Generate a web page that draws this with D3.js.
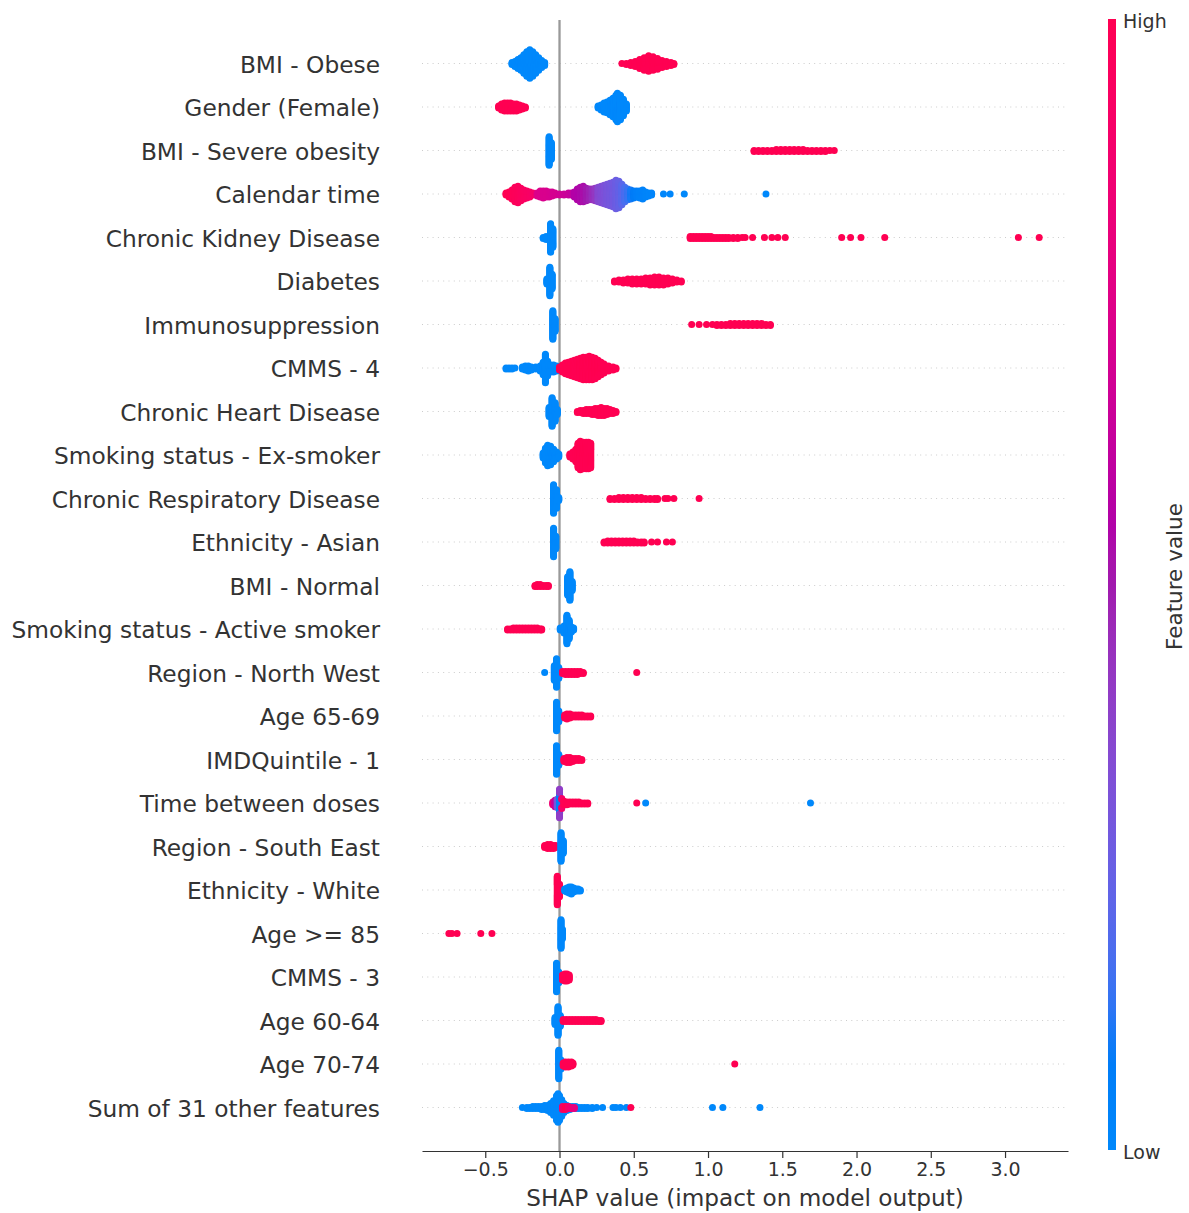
<!DOCTYPE html>
<html>
<head>
<meta charset="utf-8">
<script src="https://cdn.jsdelivr.net/npm/d3@7"></script>
<style>
  body { margin: 0; background: #fff; }
  text { font-family: "DejaVu Sans", sans-serif; }
</style>
</head>
<body>
<svg id="chart" width="1189" height="1213"></svg>
<script>
// Feature names, ordered by mean |SHAP| (top row first)
const features = [
  "BMI - Obese", "Gender (Female)", "BMI - Severe obesity", "Calendar time",
  "Chronic Kidney Disease", "Diabetes", "Immunosuppression", "CMMS - 4",
  "Chronic Heart Disease", "Smoking status - Ex-smoker", "Chronic Respiratory Disease",
  "Ethnicity - Asian", "BMI - Normal", "Smoking status - Active smoker",
  "Region - North West", "Age 65-69", "IMDQuintile - 1", "Time between doses",
  "Region - South East", "Ethnicity - White", "Age >= 85", "CMMS - 3",
  "Age 60-64", "Age 70-74", "Sum of 31 other features"
];

// Each swarm: [SHAP value, number of samples at that value, feature value 0 (low) .. 1 (high)]
const bmiObese = [
  [-0.32,3,0],[-0.30,6,0],[-0.28,10,0],[-0.26,14,0],[-0.24,20,0],[-0.22,26,0],[-0.20,30,0],
  [-0.18,26,0],[-0.16,20,0],[-0.14,14,0],[-0.12,8,0],[-0.10,4,0],
  [0.42,1,1],[0.45,2,1],[0.48,4,1],[0.51,6,1],[0.54,10,1],[0.57,14,1],[0.60,17,1],
  [0.63,15,1],[0.66,12,1],[0.69,8,1],[0.72,6,1],[0.75,4,1],[0.77,2,1]
];
const genderFemale = [
  [-0.41,3,1],[-0.39,7,1],[-0.37,9,1],[-0.35,9,1],[-0.33,9,1],[-0.31,8,1],[-0.29,8,1],
  [-0.27,6,1],[-0.25,4,1],[-0.23,2,1],
  [0.26,3,0],[0.28,6,0],[0.30,10,0],[0.32,12,0],[0.34,16,0],[0.36,20,0],[0.38,26,0],
  [0.39,30,0],[0.41,26,0],[0.43,18,0],[0.45,8,0]
];
const bmiSevereObesity = [
  [-0.07,30,0],[-0.055,18,0],
  [1.31,2,1],[1.34,2,1],[1.37,2,1],[1.40,2,1],[1.43,2,1],[1.46,3,1],[1.49,3,1],[1.52,3,1],
  [1.55,3,1],[1.58,3,1],[1.61,3,1],[1.64,3,1],[1.67,2,1],[1.70,2,1],[1.73,2,1],[1.76,2,1],
  [1.79,2,1],[1.82,1,1],[1.85,1,1]
];
const calendarTime = [
  [-0.36,3,1],[-0.34,6,1],[-0.32,10,0.98],[-0.30,16,0.97],[-0.28,18,0.96],[-0.26,14,0.95],
  [-0.24,10,0.94],[-0.22,8,0.93],[-0.20,6,0.92],[-0.18,3,0.9],
  [-0.15,4,0.74],[-0.13,7,0.73],[-0.11,8,0.72],[-0.09,7,0.72],[-0.07,6,0.71],[-0.05,5,0.7],[-0.03,3,0.7],
  [0.00,2,0.68],[0.03,2,0.66],[0.06,3,0.64],[0.08,3,0.62],
  [0.10,6,0.56],[0.12,12,0.55],[0.14,16,0.54],[0.16,17,0.53],[0.18,14,0.5],[0.20,12,0.48],
  [0.22,12,0.45],[0.24,14,0.42],
  [0.26,16,0.36],[0.28,18,0.34],[0.30,20,0.32],[0.32,22,0.3],[0.34,24,0.29],[0.36,26,0.28],
  [0.38,30,0.26],[0.40,28,0.24],[0.42,22,0.21],[0.44,16,0.17],[0.46,12,0.14],
  [0.48,10,0.1],[0.50,8,0.08],[0.52,7,0.06],[0.54,8,0.05],[0.56,10,0.04],[0.58,6,0.03],
  [0.60,4,0.02],[0.62,3,0.02],
  [0.70,1,0.01],[0.745,1,0.01],[0.84,1,0],[1.39,1,0]
];
const chronicKidneyDisease = [
  [-0.11,2,0],[-0.09,4,0],[-0.06,30,0],[-0.045,20,0],
  [0.88,3,1],[0.90,3,1],[0.92,3,1],[0.94,3,1],[0.96,3,1],[0.98,3,1],[1.00,3,1],[1.02,3,1],
  [1.04,2,1],[1.06,2,1],[1.08,2,1],[1.10,2,1],[1.12,2,1],[1.14,2,1],[1.17,2,1],[1.20,2,1],
  [1.23,1,1],[1.25,1,1],[1.30,1,1],[1.38,1,1],[1.43,1,1],[1.47,1,1],[1.52,1,1],
  [1.90,1,1],[1.96,1,1],[2.03,1,1],[2.19,1,1],[3.09,1,1],[3.23,1,1]
];
const diabetes = [
  [-0.085,6,0],[-0.065,30,0],[-0.05,16,0],
  [0.37,2,1],[0.40,3,1],[0.43,4,1],[0.46,5,1],[0.49,6,1],[0.52,6,1],[0.55,6,1],[0.58,7,1],
  [0.61,8,1],[0.64,9,1],[0.67,9,1],[0.70,8,1],[0.73,7,1],[0.76,5,1],[0.79,3,1],[0.82,2,1]
];
const immunosuppression = [
  [-0.045,30,0],[-0.03,14,0],
  [0.89,1,1],[0.94,1,1],[0.99,1,1],[1.03,1,1],[1.06,2,1],[1.09,2,1],[1.12,2,1],[1.15,3,1],
  [1.18,3,1],[1.21,3,1],[1.24,3,1],[1.27,3,1],[1.30,3,1],[1.33,3,1],[1.36,3,1],[1.39,2,1],[1.42,2,1]
];
const cmms4 = [
  [-0.36,2,0],[-0.34,2,0],[-0.32,2,0],[-0.30,1,0],[-0.25,3,0],[-0.23,5,0],[-0.21,6,0],
  [-0.19,4,0],[-0.16,3,0],[-0.13,6,0],[-0.11,14,0],[-0.095,30,0],[-0.08,16,0],[-0.06,8,0],
  [-0.04,8,0],[-0.02,6,0],[-0.005,4,0],
  [0.00,4,1],[0.02,8,1],[0.04,12,1],[0.06,14,1],[0.08,16,1],[0.10,18,1],[0.12,20,1],
  [0.14,22,1],[0.16,24,1],[0.18,24,1],[0.20,25,1],[0.22,24,1],[0.24,22,1],[0.26,18,1],
  [0.28,14,1],[0.30,10,1],[0.33,6,1],[0.36,4,1],[0.38,2,1]
];
const chronicHeartDisease = [
  [-0.07,10,0],[-0.05,30,0],[-0.03,20,0],[-0.015,6,0],
  [0.12,2,1],[0.14,3,1],[0.16,4,1],[0.18,5,1],[0.20,5,1],[0.22,6,1],[0.24,7,1],[0.26,8,1],
  [0.28,9,1],[0.30,8,1],[0.32,7,1],[0.34,5,1],[0.36,4,1],[0.38,2,1]
];
const exSmoker = [
  [-0.11,6,0],[-0.095,16,0],[-0.08,22,0],[-0.06,20,0],[-0.04,14,0],[-0.02,8,0],[-0.005,4,0],
  [0.07,4,1],[0.09,8,1],[0.11,14,1],[0.125,26,1],[0.14,30,1],[0.16,28,1],[0.18,28,1],
  [0.195,28,1],[0.21,26,1]
];
const chronicRespiratoryDisease = [
  [-0.04,30,0],[-0.02,20,0],[-0.005,4,0],
  [0.34,2,1],[0.37,2,1],[0.40,3,1],[0.43,3,1],[0.46,3,1],[0.49,3,1],[0.52,3,1],[0.55,3,1],
  [0.58,2,1],[0.61,2,1],[0.64,2,1],[0.66,2,1],[0.71,1,1],[0.73,1,1],[0.77,1,1],[0.94,1,1]
];
const ethnicityAsian = [
  [-0.04,30,0],[-0.025,14,0],
  [0.30,2,1],[0.325,3,1],[0.35,3,1],[0.375,3,1],[0.40,3,1],[0.425,3,1],[0.45,3,1],
  [0.475,3,1],[0.50,3,1],[0.525,2,1],[0.55,2,1],[0.57,2,1],
  [0.62,1,1],[0.66,1,1],[0.72,1,1],[0.76,1,1]
];
const bmiNormal = [
  [-0.165,2,1],[-0.15,3,1],[-0.13,3,1],[-0.11,2,1],[-0.09,2,1],[-0.075,2,1],
  [0.055,20,0],[0.07,30,0],[0.085,10,0]
];
const activeSmoker = [
  [-0.35,2,1],[-0.33,2,1],[-0.31,3,1],[-0.29,3,1],[-0.27,3,1],[-0.25,3,1],[-0.23,3,1],
  [-0.21,3,1],[-0.19,3,1],[-0.17,3,1],[-0.15,3,1],[-0.13,2,1],[-0.12,2,1],
  [0.005,3,0],[0.03,8,0],[0.05,30,0],[0.065,20,0],[0.08,6,0],[0.095,3,0]
];
const regionNorthWest = [
  [-0.10,1,0],[-0.035,16,0],[-0.02,30,0],[-0.005,12,0],
  [0.02,3,1],[0.04,4,1],[0.06,4,1],[0.08,4,1],[0.10,4,1],[0.12,4,1],[0.14,3,1],[0.16,2,1],
  [0.52,1,1]
];
const age65to69 = [
  [-0.02,30,0],[-0.005,12,0],
  [0.035,4,1],[0.05,6,1],[0.07,5,1],[0.09,3,1],[0.11,3,1],[0.13,3,1],[0.15,3,1],
  [0.17,2,1],[0.19,2,1],[0.21,2,1]
];
const imdQuintile1 = [
  [-0.02,30,0],[-0.005,12,0],
  [0.03,4,1],[0.05,6,1],[0.07,6,1],[0.09,4,1],[0.11,3,1],[0.13,3,1],[0.15,2,1]
];
const timeBetweenDoses = [
  [-0.045,4,0.85],[-0.03,8,0.65],[-0.015,10,0.3],
  [0.00,22,0.05],[0.00,10,0.4],[0.015,8,0.1],[0.015,4,0.9],
  [0.03,5,1],[0.05,4,1],[0.07,3,1],[0.09,3,1],[0.11,3,1],[0.13,3,1],[0.15,2,1],[0.17,2,1],
  [0.19,2,1],
  [0.52,1,1],[0.58,1,0],[1.69,1,0]
];
const regionSouthEast = [
  [-0.10,3,1],[-0.08,5,1],[-0.06,5,1],[-0.04,4,1],[-0.025,3,1],
  [0.01,30,0],[0.025,14,0]
];
const ethnicityWhite = [
  [-0.015,30,1],[0.00,14,1],
  [0.035,3,0],[0.05,5,0],[0.065,7,0],[0.08,8,0],[0.095,5,0],[0.11,3,0],[0.125,3,0],[0.14,2,0]
];
const age85plus = [
  [-0.745,1,1],[-0.725,1,1],[-0.69,1,1],[-0.53,1,1],[-0.455,1,1],
  [0.01,30,0],[0.02,10,0]
];
const cmms3 = [
  [-0.02,30,0],[-0.005,12,0],
  [0.02,6,1],[0.035,8,1],[0.05,8,1],[0.065,6,1]
];
const age60to64 = [
  [-0.03,8,0],[-0.01,30,0],[0.005,12,0],
  [0.025,3,1],[0.045,3,1],[0.065,3,1],[0.085,3,1],[0.105,3,1],[0.125,3,1],[0.145,3,1],
  [0.165,3,1],[0.185,3,1],[0.205,3,1],[0.225,3,1],[0.245,3,1],[0.265,2,1],[0.28,2,1]
];
const age70to74 = [
  [-0.005,30,0],[0.01,10,0],
  [0.025,4,1],[0.04,6,1],[0.06,6,1],[0.08,5,1],[0.09,3,1],[1.18,1,1]
];
const otherFeatures = [
  [-0.25,1,0],[-0.22,2,0],[-0.20,2,0],[-0.18,3,0],[-0.16,3,0],[-0.14,3,0],[-0.12,4,0],
  [-0.10,5,0],[-0.08,6,0],[-0.06,10,0],[-0.04,16,0],[-0.02,26,0],[-0.01,30,0],[0.00,26,0],
  [0.015,18,0],[0.03,10,0],[0.05,6,0],[0.07,4,0],[0.09,3,0],[0.11,3,0],[0.13,2,0],
  [0.15,2,0],[0.17,2,0],[0.19,2,0],[0.22,2,0],[0.25,1,0],[0.29,1,0],[0.36,1,0],[0.38,1,0],
  [0.41,1,0],[0.45,1,0],[1.03,1,0],[1.10,1,0],[1.35,1,0],
  [0.02,4,0.9],[0.04,4,1],[0.06,3,0.9],[0.08,2,0.85],[0.10,2,0.8],[0.48,1,1]
];

const swarms = [
  bmiObese, genderFemale, bmiSevereObesity, calendarTime, chronicKidneyDisease, diabetes,
  immunosuppression, cmms4, chronicHeartDisease, exSmoker, chronicRespiratoryDisease,
  ethnicityAsian, bmiNormal, activeSmoker, regionNorthWest, age65to69, imdQuintile1,
  timeBetweenDoses, regionSouthEast, ethnicityWhite, age85plus, cmms3, age60to64,
  age70to74, otherFeatures
];

// Axis ticks and colour-bar end labels
const xDomain = [-0.926, 3.424];
const xTicks = [-0.5, 0.0, 0.5, 1.0, 1.5, 2.0, 2.5, 3.0];
const colorLabels = ["Low", "High"];

const svg = d3.select("#chart");
const plotLeft = 422, plotRight = 1068, plotTop = 20, plotBottom = 1151;

const x = d3.scaleLinear().domain(xDomain).range([plotLeft, plotRight]);
const y = d3.scaleLinear().domain([-1, features.length]).range([plotTop, plotBottom]);
const rowStep = y(1) - y(0);

// Blue-to-red map interpolated in LCh: hue sweeps through violet/magenta,
// lightness dips in the middle, chroma grows toward the red end.
function redBlue(t) {
  const h = 266.93 + t * (380.32 - 266.93);
  const c = 70 + 20 * t;
  const l = t < 0.5 ? 54 - 28 * t : 40 + 28 * (t - 0.5);
  return d3.hcl(h % 360, c, l).formatHex();
}
const color = d3.scaleSequential(redBlue).domain([0, 1]);

// dotted row guides
svg.append("g").selectAll("line").data(features).join("line")
  .attr("x1", plotLeft).attr("x2", plotRight)
  .attr("y1", (d, i) => y(i)).attr("y2", (d, i) => y(i))
  .attr("stroke", "#cccccc").attr("stroke-width", 1)
  .attr("stroke-dasharray", "1,4.3");

// zero reference line
svg.append("line")
  .attr("x1", x(0)).attr("x2", x(0))
  .attr("y1", plotTop).attr("y2", plotBottom)
  .attr("stroke", "#999999").attr("stroke-width", 2.3);

// Stack samples sharing a SHAP value into alternating layers around the row
function swarm(groups) {
  const cols = d3.groups(groups, g => g[0]);
  const pts = [];
  for (const [v, gs] of cols) {
    let layer = 0;
    for (const [, n, fv] of gs) {
      for (let k = 0; k < n; k++) {
        pts.push({ v, fv, off: Math.ceil(layer / 2) * ((layer % 2) * 2 - 1) });
        layer++;
      }
    }
  }
  const top = d3.max(pts, p => p.off) + 1;
  pts.forEach(p => { p.dy = p.off * 0.36 * rowStep / top; });
  return pts;
}

const rows = svg.append("g").selectAll("g").data(swarms).join("g")
  .attr("transform", (d, i) => `translate(0,${y(i)})`);
rows.selectAll("circle").data(d => swarm(d)).join("circle")
  .attr("cx", p => x(p.v))
  .attr("cy", p => p.dy)
  .attr("r", 3.5)
  .attr("fill", p => color(p.fv));

// feature labels
svg.append("g").selectAll("text").data(features).join("text")
  .attr("x", 380).attr("y", (d, i) => y(i) + 1).attr("dy", "0.36em")
  .attr("text-anchor", "end")
  .attr("font-size", 23.3).attr("fill", "#333333")
  .text(d => d);

// x axis
const ax = svg.append("g")
  .attr("transform", `translate(0,${plotBottom})`)
  .call(d3.axisBottom(x).tickValues(xTicks).tickFormat(d3.format(".1f"))
    .tickSize(7).tickSizeOuter(0).tickPadding(5));
ax.select(".domain").attr("stroke", "#333333").attr("stroke-width", 1.2);
ax.selectAll(".tick line").attr("stroke", "#333333").attr("stroke-width", 1.2);
ax.selectAll(".tick text").attr("font-size", 19).attr("fill", "#333333")
  .attr("font-family", "DejaVu Sans, sans-serif");

svg.append("text")
  .attr("x", (plotLeft + plotRight) / 2).attr("y", 1206)
  .attr("text-anchor", "middle")
  .attr("font-size", 23.2).attr("fill", "#333333")
  .text("SHAP value (impact on model output)");

// colour bar
const cbX = 1108, cbW = 8, cbTop = 19, cbBottom = 1150;
const grad = svg.append("defs").append("linearGradient")
  .attr("id", "featureGradient")
  .attr("x1", 0).attr("y1", 1).attr("x2", 0).attr("y2", 0);
grad.selectAll("stop").data(d3.range(0, 1.0001, 0.025)).join("stop")
  .attr("offset", t => t).attr("stop-color", t => color(t));
svg.append("rect")
  .attr("x", cbX).attr("y", cbTop).attr("width", cbW).attr("height", cbBottom - cbTop)
  .attr("fill", "url(#featureGradient)");

const cbScale = d3.scaleLinear().domain([0, 1]).range([cbBottom, cbTop]);
svg.append("g").selectAll("text").data(colorLabels).join("text")
  .attr("x", cbX + cbW + 7).attr("y", (d, i) => cbScale(i) + 2).attr("dy", "0.36em")
  .attr("font-size", 19).attr("fill", "#333333")
  .text(d => d);

svg.append("text")
  .attr("transform", `translate(1174,${(cbTop + cbBottom) / 2 - 8}) rotate(-90)`)
  .attr("text-anchor", "middle").attr("dy", "0.36em")
  .attr("font-size", 21.5).attr("fill", "#333333")
  .text("Feature value");
</script>
</body>
</html>
